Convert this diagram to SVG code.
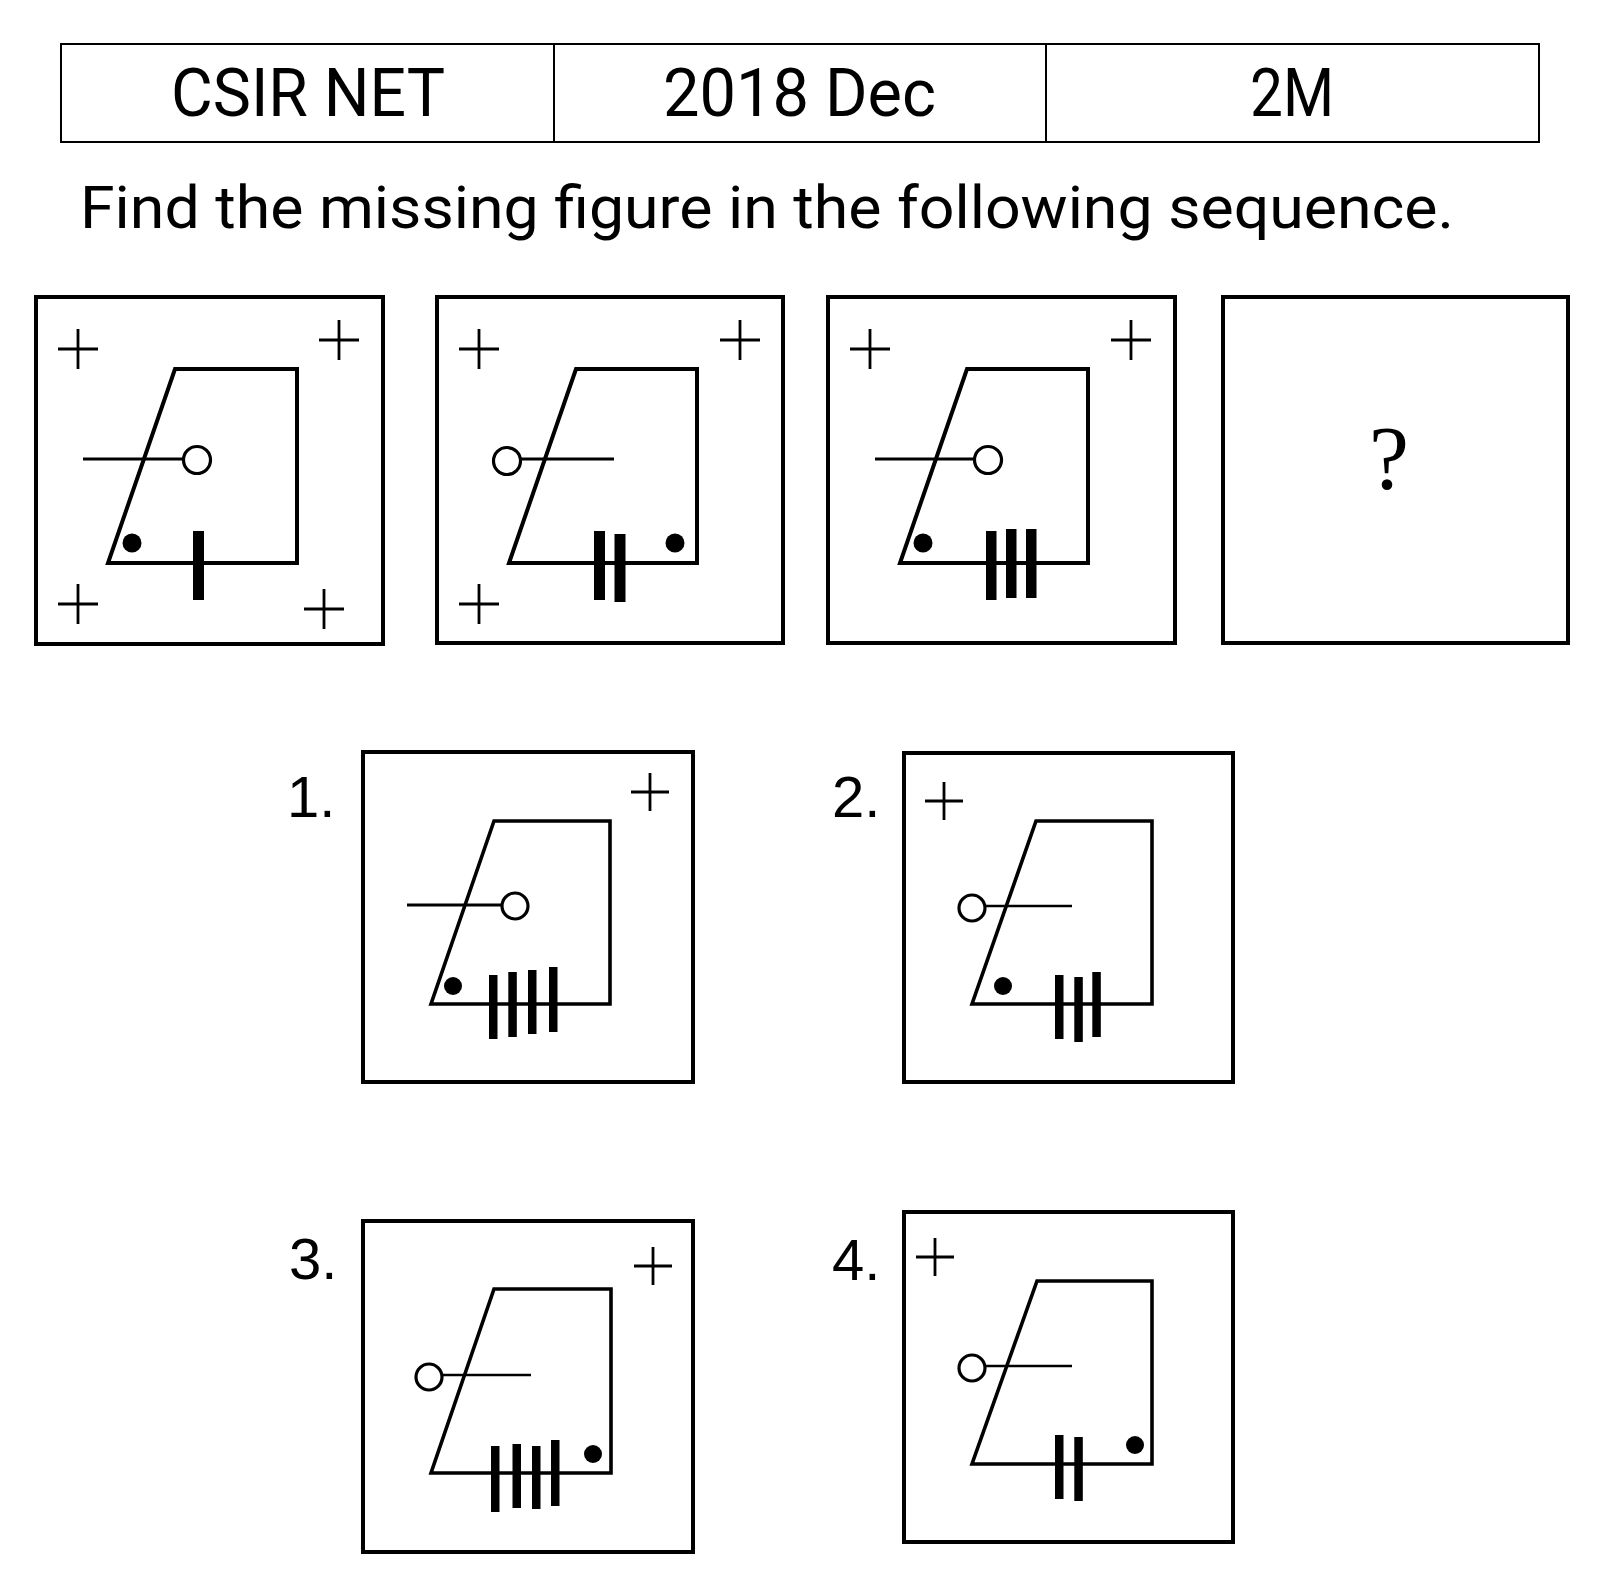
<svg xmlns="http://www.w3.org/2000/svg" xmlns:xlink="http://www.w3.org/1999/xlink" width="1600" height="1584" viewBox="0 0 1600 1584">
<style>
.hdr{font-family:Roboto,"Liberation Sans",sans-serif;fill:#000}
.lbl{font-family:"Liberation Sans",Arial,sans-serif;font-size:58px;fill:#000}
.frame{fill:none;stroke:#000;stroke-width:4}
.trap{fill:none;stroke:#000;stroke-width:4;stroke-linejoin:miter}
.trapS{fill:none;stroke:#000;stroke-width:3.6;stroke-linejoin:miter}
.arm{stroke:#000;stroke-width:3.2}
.armS{stroke:#000;stroke-width:2.5}
.ring{fill:#fff;stroke:#000;stroke-width:3.2}
.dot{fill:#000}
.bar{fill:#000}
.plus{stroke:#000;stroke-width:2.8;fill:none}
.tbl{fill:none;stroke:#000;stroke-width:2}
</style>
<defs>
<path id="plus" class="plus" d="M-20,0H20M0,-20V20"/>
<path id="plusS" class="plus" d="M-19,0H19M0,-19V19"/>
</defs>
<rect width="1600" height="1584" fill="#fff"/>

<g id="header">
<rect class="tbl" x="61" y="44" width="1478" height="98"/>
<line class="tbl" x1="554" y1="44" x2="554" y2="142"/>
<line class="tbl" x1="1046" y1="44" x2="1046" y2="142"/>
<text class="hdr" x="171" y="116" font-size="67" textLength="274" lengthAdjust="spacingAndGlyphs">CSIR NET</text>
<text class="hdr" x="663" y="116" font-size="67" textLength="273" lengthAdjust="spacingAndGlyphs">2018 Dec</text>
<text class="hdr" x="1250" y="116" font-size="67" textLength="84" lengthAdjust="spacingAndGlyphs">2M</text>
</g>

<g id="question">
<text class="hdr" x="80" y="228" font-size="60" textLength="1374" lengthAdjust="spacingAndGlyphs">Find the missing figure in the following sequence.</text>
</g>

<g id="fig1">
<rect class="frame" x="36" y="297" width="347" height="347"/>
<use xlink:href="#plus" x="78" y="349"/>
<use xlink:href="#plus" x="339" y="340"/>
<use xlink:href="#plus" x="78" y="604"/>
<use xlink:href="#plus" x="324" y="609"/>
<polygon class="trap" points="175,369 297,369 297,563 108,563"/>
<line class="arm" x1="83" y1="459" x2="183" y2="459"/>
<circle class="ring" cx="197" cy="460" r="13.5"/>
<circle class="dot" cx="132" cy="543" r="9.5"/>
<rect class="bar" x="193" y="531" width="11" height="69"/>
</g>

<g id="fig2">
<rect class="frame" x="437" y="297" width="346" height="346"/>
<use xlink:href="#plus" x="479" y="349"/>
<use xlink:href="#plus" x="740" y="340"/>
<use xlink:href="#plus" x="479" y="604"/>
<polygon class="trap" points="576,369 697,369 697,563 509,563"/>
<line class="arm" x1="520" y1="459" x2="614" y2="459"/>
<circle class="ring" cx="507" cy="461" r="13.5"/>
<circle class="dot" cx="675" cy="543" r="9.5"/>
<rect class="bar" x="594" y="531" width="11" height="69"/>
<rect class="bar" x="614.5" y="534" width="11" height="68"/>
</g>

<g id="fig3">
<rect class="frame" x="828" y="297" width="347" height="346"/>
<use xlink:href="#plus" x="870" y="349"/>
<use xlink:href="#plus" x="1131" y="340"/>
<polygon class="trap" points="967,369 1088,369 1088,563 900,563"/>
<line class="arm" x1="875" y1="459" x2="975" y2="459"/>
<circle class="ring" cx="988" cy="460" r="13.5"/>
<circle class="dot" cx="923" cy="543" r="9.5"/>
<rect class="bar" x="986" y="531" width="10.5" height="69"/>
<rect class="bar" x="1006" y="529" width="10.5" height="69"/>
<rect class="bar" x="1026" y="529" width="10.5" height="69"/>
</g>

<g id="fig4">
<rect class="frame" x="1223" y="297" width="345" height="346"/>
<text x="1389" y="489" font-family="'Liberation Serif','Times New Roman',serif" font-size="90" text-anchor="middle" fill="#000">?</text>
</g>

<g id="opt1">
<text class="lbl" x="287" y="817">1.</text>
<rect class="frame" x="363" y="752" width="330" height="330"/>
<use xlink:href="#plusS" x="650" y="792"/>
<polygon class="trapS" points="494,821 610,821 610,1004 431,1004"/>
<line class="arm" x1="407" y1="905" x2="502" y2="905"/>
<circle class="ring" cx="515" cy="906" r="13"/>
<circle class="dot" cx="453" cy="986" r="9"/>
<rect class="bar" x="489" y="975" width="8.5" height="64"/>
<rect class="bar" x="508.3" y="972" width="8.5" height="65"/>
<rect class="bar" x="528" y="970" width="8.5" height="64"/>
<rect class="bar" x="549" y="967" width="8.5" height="65"/>
</g>

<g id="opt2">
<text class="lbl" x="832" y="817">2.</text>
<rect class="frame" x="904" y="753" width="329" height="329"/>
<use xlink:href="#plusS" x="944" y="801"/>
<polygon class="trapS" points="1036,821 1152,821 1152,1004 972,1004"/>
<line class="armS" x1="985" y1="906" x2="1072" y2="906"/>
<circle class="ring" cx="972" cy="908" r="13"/>
<circle class="dot" cx="1003" cy="986" r="9"/>
<rect class="bar" x="1055" y="975" width="8.5" height="64"/>
<rect class="bar" x="1074.3" y="977" width="8.5" height="65"/>
<rect class="bar" x="1092.3" y="972" width="8.5" height="65"/>
</g>

<g id="opt3">
<text class="lbl" x="289" y="1279">3.</text>
<rect class="frame" x="363" y="1221" width="330" height="331"/>
<use xlink:href="#plusS" x="653" y="1266"/>
<polygon class="trapS" points="494,1289 611,1289 611,1473 431,1473"/>
<line class="armS" x1="442" y1="1375" x2="531" y2="1375"/>
<circle class="ring" cx="429" cy="1377" r="13"/>
<circle class="dot" cx="593" cy="1454" r="9"/>
<rect class="bar" x="491" y="1446" width="8.5" height="66"/>
<rect class="bar" x="512.5" y="1444" width="8.5" height="64"/>
<rect class="bar" x="532" y="1446" width="8.5" height="63"/>
<rect class="bar" x="551" y="1440" width="8.5" height="66"/>
</g>

<g id="opt4">
<text class="lbl" x="832" y="1280">4.</text>
<rect class="frame" x="904" y="1212" width="329" height="330"/>
<use xlink:href="#plusS" x="935" y="1257"/>
<polygon class="trapS" points="1037,1281 1152,1281 1152,1464 972,1464"/>
<line class="armS" x1="985" y1="1366" x2="1072" y2="1366"/>
<circle class="ring" cx="972" cy="1368" r="13"/>
<circle class="dot" cx="1135" cy="1445" r="9"/>
<rect class="bar" x="1055" y="1435" width="8.5" height="64"/>
<rect class="bar" x="1074.3" y="1437" width="8.5" height="64"/>
</g>

<g id="connectors"></g>
</svg>
